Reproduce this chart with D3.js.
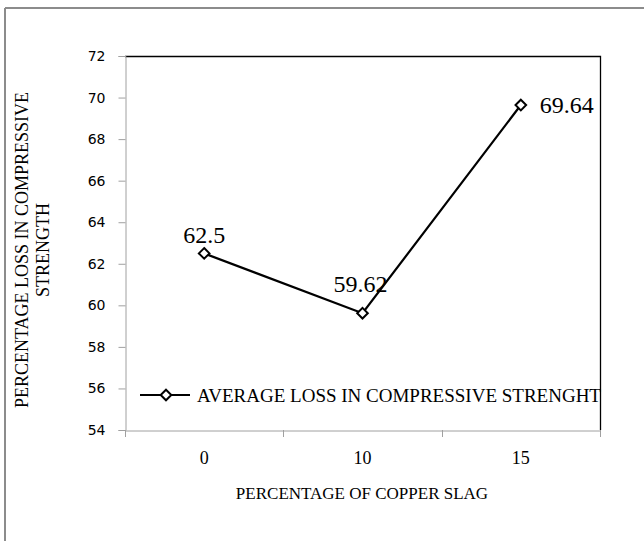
<!DOCTYPE html>
<html>
<head>
<meta charset="utf-8">
<script src="https://cdn.jsdelivr.net/npm/d3@7"></script>
<style>
  html, body { margin: 0; padding: 0; background: #fff; }
  svg { display: block; }
</style>
</head>
<body>
<svg id="chart" width="644" height="541"></svg>
<script>
// Copper slag replacement levels and the measured average strength loss
const categories = ["0", "10", "15"];
const lossValues = [62.5, 59.62, 69.64];
const yTicks = [54, 56, 58, 60, 62, 64, 66, 68, 70, 72];
const seriesName = "AVERAGE LOSS IN COMPRESSIVE STRENGHT";

const svg = d3.select("#chart");
const W = 644, H = 541;
const plot = { left: 125, right: 600, top: 56, bottom: 430 };
const serif = "'Liberation Serif', 'Times New Roman', serif";
const sans = "'DejaVu Sans', Verdana, sans-serif";

// Outer chart frame (only top and left edges fall inside the window)
svg.append("line").attr("x1", 5).attr("x2", W).attr("y1", 8).attr("y2", 8)
  .attr("stroke", "#8c8c8c").attr("stroke-width", 2);
svg.append("line").attr("x1", 5).attr("x2", 5).attr("y1", 8).attr("y2", H)
  .attr("stroke", "#8c8c8c").attr("stroke-width", 2);

const x = d3.scaleBand().domain(categories).range([plot.left, plot.right]);
const y = d3.scaleLinear().domain([54, 72]).range([plot.bottom, plot.top]);

// Plot border: black on top/right
svg.append("path")
  .attr("d", `M${plot.left},${plot.top + 0.5}H${plot.right + 0.5}V${plot.bottom}`)
  .attr("fill", "none").attr("stroke", "#000").attr("stroke-width", 1.3);

// Y axis
const yAxis = svg.append("g").attr("transform", `translate(${plot.left + 0.5},0)`)
  .call(d3.axisLeft(y).tickValues(yTicks).tickSize(7).tickPadding(13));
yAxis.select(".domain").attr("stroke", "#a0a0a0");
yAxis.selectAll(".tick line").attr("stroke", "#a0a0a0");
yAxis.selectAll(".tick text").attr("font-family", sans).attr("font-size", 14)
  .attr("fill", "#000");

// X axis with ticks between categories
const xAxis = svg.append("g").attr("transform", `translate(0,${plot.bottom + 0.5})`)
  .call(d3.axisBottom(x).tickSize(0).tickPadding(21));
xAxis.select(".domain").attr("stroke", "#a0a0a0");
xAxis.selectAll(".tick text").attr("font-family", serif).attr("font-size", 18)
  .attr("fill", "#000");
const edges = categories.map(c => x(c)).concat([x.range()[1]]);
svg.append("g").selectAll("line").data(edges).join("line")
  .attr("x1", d => Math.round(d) + 0.5).attr("x2", d => Math.round(d) + 0.5)
  .attr("y1", plot.bottom).attr("y2", plot.bottom + 7)
  .attr("stroke", "#a0a0a0");

// Axis titles
svg.append("text").attr("x", 362).attr("y", 499).attr("text-anchor", "middle")
  .attr("font-family", serif).attr("font-size", 17).text("PERCENTAGE OF COPPER SLAG");
const yTitle = svg.append("text").attr("transform", "translate(0,250) rotate(-90)")
  .attr("text-anchor", "middle").attr("font-family", serif).attr("font-size", 18);
yTitle.append("tspan").attr("x", 0).attr("y", 28).text("PERCENTAGE LOSS IN COMPRESSIVE");
yTitle.append("tspan").attr("x", 0).attr("y", 49).text("STRENGTH");

// Series line and diamond markers
const pts = categories.map((c, i) => ({ c, v: lossValues[i], x: x(c) + x.bandwidth() / 2, y: y(lossValues[i]) }));
svg.append("path").datum(pts)
  .attr("d", d3.line().x(d => d.x).y(d => d.y))
  .attr("fill", "none").attr("stroke", "#000").attr("stroke-width", 2.2);
const diamond = d3.symbol().type(d3.symbolDiamond2).size(72);
svg.append("g").selectAll("path").data(pts).join("path")
  .attr("d", diamond).attr("transform", d => `translate(${d.x},${d.y})`)
  .attr("fill", "#fff").attr("stroke", "#000").attr("stroke-width", 2);

// Value labels
const labelPos = [
  { dx: 0, dy: -10, anchor: "middle" },
  { dx: -2, dy: -21, anchor: "middle" },
  { dx: 19, dy: 8, anchor: "start" }
];
svg.append("g").selectAll("text").data(pts).join("text")
  .attr("x", (d, i) => d.x + labelPos[i].dx).attr("y", (d, i) => d.y + labelPos[i].dy)
  .attr("text-anchor", (d, i) => labelPos[i].anchor)
  .attr("font-family", serif).attr("font-size", 24).text(d => d.v);

// Legend
const lg = svg.append("g").attr("transform", "translate(140,395)");
lg.append("line").attr("x1", 0).attr("x2", 50).attr("stroke", "#000").attr("stroke-width", 2.2);
lg.append("path").attr("d", diamond).attr("transform", "translate(26,0)")
  .attr("fill", "#fff").attr("stroke", "#000").attr("stroke-width", 2);
lg.append("text").attr("x", 57).attr("y", 7).attr("font-family", serif).attr("font-size", 19)
  .text(seriesName);
</script>
</body>
</html>
